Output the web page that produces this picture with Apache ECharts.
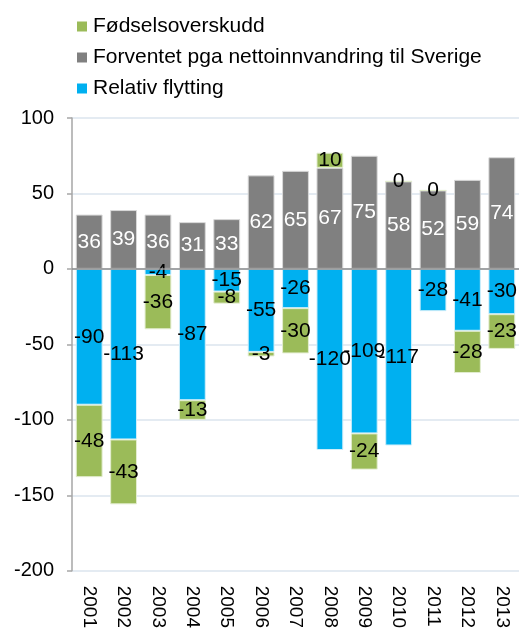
<!DOCTYPE html>
<html lang="no">
<head>
    <meta charset="UTF-8">
    <script src="https://cdn.jsdelivr.net/npm/echarts@6/dist/echarts.min.js"></script>
    <title>Befolkning</title>
    <style>
        html, body { margin: 0; padding: 0; background: #fff; }
        #main { width: 519px; height: 631px; }
    </style>
</head>
<body>
<div id="main"></div>
<script>
    // data lest av figuren
    var years = ['2001', '2002', '2003', '2004', '2005', '2006', '2007', '2008', '2009', '2010', '2011', '2012', '2013'];
    var forventet = [36, 39, 36, 31, 33, 62, 65, 67, 75, 58, 52, 59, 74];
    var relativ = [-90, -113, -4, -87, -15, -55, -26, -120, -109, -117, -28, -41, -30];
    var fodsel = [-48, -43, -36, -13, -8, -3, -30, 10, -24, 0, 0, -28, -23];

    var names = ['Fødselsoverskudd', 'Forventet pga nettoinnvandring til Sverige', 'Relativ flytting'];
    var font = 'Liberation Sans, Arial, sans-serif';

    var myChart = echarts.init(document.getElementById('main'));

    function barLabel(color) {
        return {
            show: true,
            position: 'inside',
            color: color,
            fontFamily: font,
            fontSize: 21
        };
    }

    // rekkefølgen blå, grå, grønn gjør at 0-verdiene havner på toppen av grå
    var option = {
        animation: false,
        legend: {
            data: names,
            orient: 'vertical',
            left: 72,
            top: 11,
            itemWidth: 10,
            itemHeight: 10,
            itemGap: 10,
            icon: 'rect',
            itemStyle: { borderWidth: 0 },
            textStyle: { fontFamily: font, fontSize: 21, color: '#000', padding: [0, 0, 0, 1] }
        },
        grid: { left: 72, right: -2, top: 118, bottom: 59, containLabel: false },
        xAxis: {
            type: 'category',
            data: years,
            axisLine: { show: false },
            axisTick: { show: false },
            axisLabel: { rotate: -90, margin: 15, fontFamily: font, fontSize: 19, color: '#000' }
        },
        yAxis: {
            type: 'value',
            min: -200,
            max: 100,
            interval: 50,
            axisLine: { show: true, lineStyle: { color: '#a6a6a6', width: 1.5 } },
            axisTick: { show: true, length: 5, lineStyle: { color: '#a6a6a6', width: 1.5 } },
            axisLabel: { margin: 18, fontFamily: font, fontSize: 20, color: '#000' },
            splitLine: { lineStyle: { color: '#dbe4ee', width: 1.5 } }
        },
        series: [
            {
                name: names[2],
                type: 'bar',
                stack: 'tot',
                barCategoryGap: '22%',
                data: relativ,
                itemStyle: { color: '#00b0f0', borderColor: '#cfeefa', borderWidth: 1 },
                label: barLabel('#000'),
                markLine: {
                    silent: true,
                    symbol: 'none',
                    label: { show: false },
                    lineStyle: { color: '#8c8c8c', width: 1.5, type: 'solid' },
                    data: [{ yAxis: 0 }]
                }
            },
            {
                name: names[1],
                type: 'bar',
                stack: 'tot',
                data: forventet,
                itemStyle: { color: '#808080', borderColor: '#d9d9d9', borderWidth: 1 },
                label: barLabel('#fff')
            },
            {
                name: names[0],
                type: 'bar',
                stack: 'tot',
                data: fodsel,
                itemStyle: { color: '#9bbb59', borderColor: '#e3edd0', borderWidth: 1 },
                label: barLabel('#000')
            }
        ]
    };
    myChart.setOption(option);
</script>
</body>
</html>
